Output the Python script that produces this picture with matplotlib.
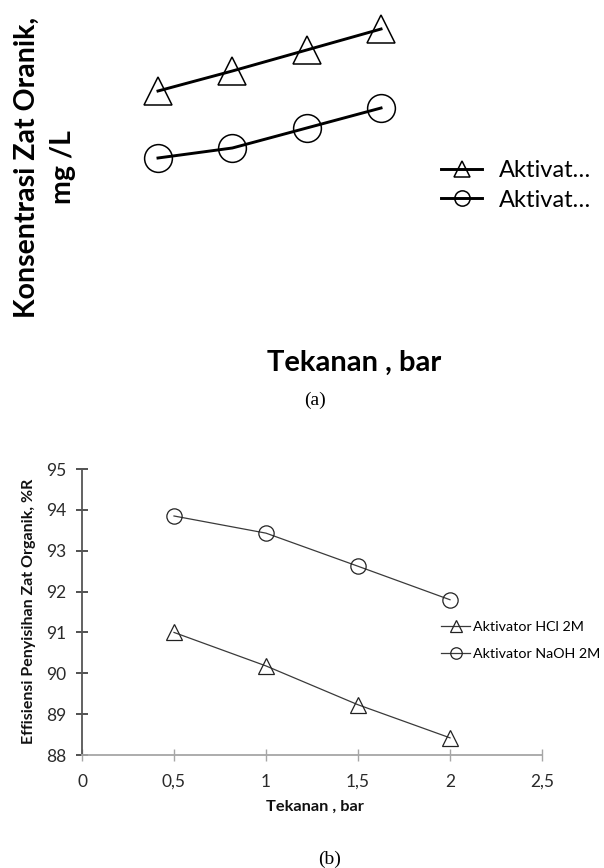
import numpy as np
import matplotlib.pyplot as plt

# data for panel (a): the chart has no printed scale, values read as relative heights
tekanan_a = [0.5, 1.0, 1.5, 2.0]
konsentrasi_hcl = [10.9, 12.9, 15.0, 17.1]
konsentrasi_naoh = [4.2, 5.2, 7.2, 9.2]
legend_a = ["Aktivat…", "Aktivat…"]

# data for panel (b)
tekanan_b = [0.5, 1.0, 1.5, 2.0]
efisiensi_hcl = [91.0, 90.18, 89.23, 88.42]
efisiensi_naoh = [93.85, 93.43, 92.62, 91.8]
legend_b = ["Aktivator HCl 2M", "Aktivator NaOH 2M"]
xticks_b = [0, 0.5, 1, 1.5, 2, 2.5]
xticklabels_b = ["0", "0,5", "1", "1,5", "2", "2,5"]
yticks_b = [88, 89, 90, 91, 92, 93, 94, 95]

plt.rcParams['font.family'] = ['Lato', 'DejaVu Sans']

W, H = 604, 868
fig = plt.figure(figsize=(W / 100, H / 100), dpi=100)


def px_box(x0, y0, x1, y1):
    # pixel box (top-left origin) -> figure fractions
    return [x0 / W, 1 - y1 / H, (x1 - x0) / W, (y1 - y0) / H]


# ---- panel (a) ----
ax_a = fig.add_axes(px_box(120, 0, 420, 200))
ax_a.axis('off')
ax_a.set_xlim(0.2445, 2.262)
ax_a.set_ylim(0, 20)
ax_a.plot(tekanan_a, konsentrasi_hcl, color='black', lw=2.1, marker='^', ms=20,
          mfc='none', mec='black', mew=1.1, label=legend_a[0])
ax_a.plot(tekanan_a, konsentrasi_naoh, color='black', lw=2.1, marker='o', ms=20,
          mfc='none', mec='black', mew=1.1, label=legend_a[1])
handles, labels = ax_a.get_legend_handles_labels()
leg_a = ax_a.legend(handles, labels, loc='center left', frameon=False,
                    bbox_to_anchor=(441 / W, 1 - 185.5 / H), bbox_transform=fig.transFigure,
                    fontsize=17, handlelength=1.75, handletextpad=0.7, labelspacing=0.35,
                    borderpad=0, borderaxespad=0, markerscale=0.55)

fig.text(45 / W, 1 - 167 / H, "Konsentrasi Zat Oranik,\nmg /L", rotation=90,
         ha='center', va='center', multialignment='center', fontsize=20.5,
         fontweight='bold', linespacing=1.5)
fig.text(354 / W, 1 - 363 / H, "Tekanan , bar", ha='center', va='center',
         fontsize=21, fontweight='bold')
fig.text(315 / W, 1 - 400 / H, "(a)", ha='center', va='center', fontsize=14,
         family='Liberation Serif')

# ---- panel (b) ----
ax_b = fig.add_axes(px_box(82, 469, 542, 755))
ax_b.set_xlim(0, 2.5)
ax_b.set_ylim(88, 95)
ax_b.plot(tekanan_b, efisiensi_hcl, color='#3a3a3a', lw=0.9, marker='^', ms=11,
          mfc='none', mec='#222222', mew=0.9, label=legend_b[0])
ax_b.plot(tekanan_b, efisiensi_naoh, color='#3a3a3a', lw=0.9, marker='o', ms=11,
          mfc='none', mec='#222222', mew=0.9, label=legend_b[1])

ax_b.spines['top'].set_visible(False)
ax_b.spines['right'].set_visible(False)
ax_b.spines['left'].set_color('#555555')
ax_b.spines['left'].set_linewidth(1.3)
ax_b.spines['bottom'].set_color('#a6a6a6')
ax_b.spines['bottom'].set_linewidth(1.3)
ax_b.set_xticks(xticks_b)
ax_b.set_xticklabels(xticklabels_b)
ax_b.set_yticks(yticks_b)
ax_b.tick_params(axis='y', direction='inout', length=8, width=1.2, color='#333333',
                 labelsize=12.5, labelcolor='#2a2a2a', pad=7)
ax_b.tick_params(axis='x', direction='inout', length=9, width=1.0, color='#a6a6a6',
                 labelsize=12.5, labelcolor='#2a2a2a', pad=9)
ax_b.patch.set_alpha(0)

ax_b.legend(loc='center left', frameon=False,
            bbox_to_anchor=(441 / W, 1 - 640.5 / H), bbox_transform=fig.transFigure,
            fontsize=10.3, handlelength=2.05, handletextpad=0.2, labelspacing=1.0,
            borderpad=0, borderaxespad=0, markerscale=0.75)

fig.text(29 / W, 1 - 611 / H, "Effisiensi Penyisihan Zat Organik, %R", rotation=90,
         ha='center', va='center', fontsize=11.5, fontweight='bold', color='#111111')
fig.text(315 / W, 1 - 807 / H, "Tekanan , bar", ha='center', va='center',
         fontsize=11.8, fontweight='bold', color='#111111')
fig.text(330 / W, 1 - 859 / H, "(b)", ha='center', va='center', fontsize=14,
         family='Liberation Serif')

fig.savefig("out.png", dpi=100)
